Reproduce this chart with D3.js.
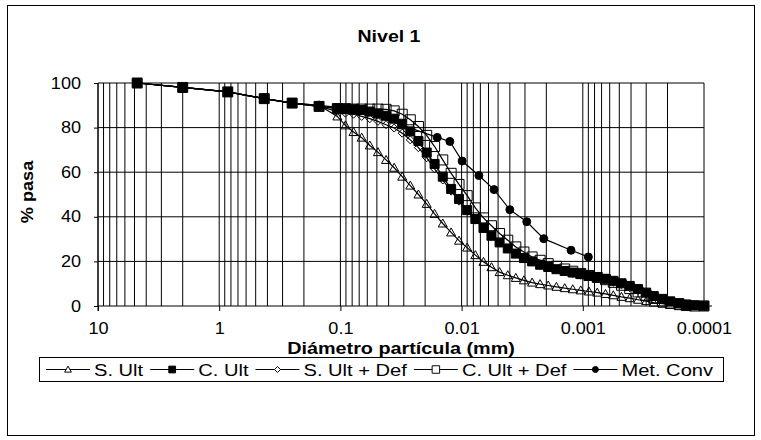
<!DOCTYPE html>
<html>
<head>
<meta charset="utf-8">
<script src="https://cdn.jsdelivr.net/npm/d3@7"></script>
<style>
  body { margin: 0; background: #fff; }
  text { font-family: "Liberation Sans", Arial, sans-serif; fill: #000; }
</style>
</head>
<body>
<div id="chart"></div>
<script>
// sieve sizes (mm)
const sieveDiam = [4.75, 2.0, 0.85, 0.425, 0.25, 0.15];
// laser size classes (mm)
const laserDiam = [0.106, 0.0909, 0.0779, 0.0667, 0.0572, 0.0490, 0.0420, 0.0360, 0.0309, 0.0265,
  0.0227, 0.0194, 0.0167, 0.0143, 0.0122, 0.0105, 0.0090, 0.0077, 0.0066, 0.00567,
  0.00486, 0.00416, 0.00357, 0.00306, 0.00262, 0.00225, 0.00193, 0.00165, 0.00141, 0.00121,
  0.00104, 0.00089, 0.00076, 0.00065, 0.00056, 0.00048, 0.00041, 0.00035, 0.00030, 0.00026,
  0.00022, 0.00019, 0.00016, 0.00014, 0.00012, 0.00010];
// sieve + hydrometer (mm)
const convDiam = [4.75, 2.0, 0.85, 0.425, 0.25, 0.15, 0.075, 0.0159, 0.0125, 0.0099,
  0.0072, 0.0054, 0.0040, 0.0029, 0.0021, 0.00125, 0.00090];

const sUltSieve = [100, 98, 96, 93, 91, 90];
const sUltLaser = [85, 81, 78, 75.5, 72, 69, 65.5, 62, 58, 54,
  50, 45.8, 41.3, 37, 33, 29.3, 26.2, 22.8, 19.8, 17.4,
  15.2, 13.8, 12.6, 11.5, 10.5, 9.8, 9.2, 8.6, 8.0, 7.5,
  7.0, 6.5, 6.0, 5.4, 4.8, 4.1, 3.5, 2.8, 2.2, 1.5,
  1.0, 0.5, 0.2, 0, 0, 0];

const cUltSieve = [100, 98, 96, 93, 91, 89.5];
const cUltLaser = [88.7, 88.4, 88.2, 87.9, 87.2, 86.3, 85.3, 84, 81.5, 78.3,
  74, 68.8, 63.7, 58, 52.5, 48, 43, 39, 35, 31.5,
  28.5, 25.8, 23.5, 21.5, 20, 18.5, 17.5, 16.5, 15.7, 15,
  14.3, 13.6, 12.9, 12.2, 11.3, 10.2, 9, 7.6, 6, 4.5,
  3.2, 2.1, 1.3, 0.7, 0.3, 0.1];

const sUltDefSieve = [100, 98, 96, 93, 91, 89.5];
const sUltDefLaser = [87.3, 86.5, 86, 85, 84, 82.8, 81.3, 79.8, 77.5, 74.5,
  71, 66.5, 61.5, 56.5, 51.5, 47, 42.5, 38.5, 34.8, 31.3,
  28.3, 25.6, 23.3, 21.3, 19.7, 18.3, 17.2, 16.2, 15.4, 14.6,
  13.8, 13.1, 12.3, 11.5, 10.6, 9.5, 8.2, 6.8, 5.4, 4,
  2.8, 1.8, 1.0, 0.5, 0.2, 0];

const cUltDefSieve = [100, 98, 96, 93, 91, 89.5];
const cUltDefLaser = [88.5, 88.5, 88.3, 88.3, 88.3, 88.3, 88.2, 87.5, 86, 83.5,
  80.5, 76.5, 71.5, 65.5, 59.5, 54.5, 49.5, 44, 39.5, 36,
  32.5, 29.5, 26.5, 24.2, 22, 20.5, 19, 17.8, 16.6, 15.6,
  14.6, 13.7, 12.8, 11.8, 10.6, 9.3, 7.8, 6.3, 4.8, 3.4,
  2.2, 1.3, 0.6, 0.2, 0, 0];

const metConv = [100, 98, 96, 93, 91, 90, 88.3, 75.6, 73.8, 65,
  58.5, 52.2, 43.2, 37.8, 30.2, 25, 22];

const seriesNames = ["S. Ult", "C. Ult", "S. Ult + Def", "C. Ult + Def", "Met. Conv"];
const xTicks = [10, 1, 0.1, 0.01, 0.001, 0.0001];
const yTicks = [0, 20, 40, 60, 80, 100];

// build point lists
function pts(diam, pass) {
  return diam.map((d, i) => ({d: d, p: pass[i]}));
}
const series = [
  {name: seriesNames[0], marker: "triangle", values: pts(sieveDiam.concat(laserDiam), sUltSieve.concat(sUltLaser))},
  {name: seriesNames[1], marker: "square", values: pts(sieveDiam.concat(laserDiam), cUltSieve.concat(cUltLaser))},
  {name: seriesNames[2], marker: "diamond", values: pts(sieveDiam.concat(laserDiam), sUltDefSieve.concat(sUltDefLaser))},
  {name: seriesNames[3], marker: "opensquare", values: pts(sieveDiam.concat(laserDiam), cUltDefSieve.concat(cUltDefLaser))},
  {name: seriesNames[4], marker: "circle", values: pts(convDiam, metConv)}
];

const width = 761, height = 440;
const svg = d3.select("#chart").append("svg")
  .attr("width", width)
  .attr("height", height);

// text is a bit wider than plain Arial in the original
function addText(parent, tx, ty, str, size, bold, anchor, sx, rot) {
  return parent.append("text")
    .attr("transform", "translate(" + tx + "," + ty + ")" + (rot ? " rotate(" + rot + ")" : "") + " scale(" + sx + ",1)")
    .attr("text-anchor", anchor)
    .style("font-size", size + "px")
    .style("font-weight", bold ? "bold" : "normal")
    .text(str);
}

// chart border
svg.append("rect")
  .attr("x", 7.5).attr("y", 5.5)
  .attr("width", 747).attr("height", 430)
  .attr("fill", "#fff").attr("stroke", "#000").attr("stroke-width", 1);

const pLeft = 98, pRight = 704, pTop = 83, pBottom = 306;

const x = d3.scaleLog().domain([10, 0.0001]).range([pLeft, pRight]);
const y = d3.scaleLinear().domain([0, 100]).range([pBottom, pTop]);

// vertical grid (major + minor)
const grid = [];
for (let e = -4; e <= 1; e++) {
  for (let m = 1; m <= 9; m++) {
    const v = m * Math.pow(10, e);
    if (v >= 0.0001 && v <= 10.0001) grid.push(v);
  }
}
svg.append("g").selectAll("line")
  .data(grid)
  .enter().append("line")
  .attr("x1", d => x(d)).attr("x2", d => x(d))
  .attr("y1", pTop).attr("y2", pBottom)
  .attr("stroke", "#000").attr("stroke-width", 1);

// horizontal grid
svg.append("g").selectAll("line")
  .data(yTicks.filter(d => d > 0))
  .enter().append("line")
  .attr("x1", pLeft).attr("x2", pRight)
  .attr("y1", d => y(d)).attr("y2", d => y(d))
  .attr("stroke", "#000").attr("stroke-width", 1);

// axes
const tickSx = 1.13;
const xAxis = d3.axisBottom(x).tickValues(xTicks).tickFormat(d => String(d)).tickSize(5).tickPadding(12);
const gx = svg.append("g").attr("transform", "translate(0," + pBottom + ")").call(xAxis);
gx.select(".domain").remove();
gx.append("line").attr("x1", pLeft).attr("x2", pRight + 8).attr("stroke", "#000");
gx.selectAll("text")
  .style("font-size", "16px").attr("font-family", null)
  .attr("transform", "scale(" + tickSx + ",1)");

const yAxis = d3.axisLeft(y).tickValues(yTicks).tickSize(4).tickPadding(17 / tickSx - 4);
const gy = svg.append("g").attr("transform", "translate(" + pLeft + ",0)").call(yAxis);
gy.select(".domain").attr("d", "M0," + pTop + "V" + (pBottom + 5));
gy.selectAll("text")
  .style("font-size", "16px").attr("font-family", null)
  .attr("transform", "scale(" + tickSx + ",1)");

// titles
addText(svg, 389, 42, "Nivel 1", 17, true, "middle", 1.15);
addText(svg, (pLeft + pRight) / 2, 354, "Diámetro partícula (mm)", 16.5, true, "middle", 1.2);
addText(svg, 33, 192, "% pasa", 16.5, true, "middle", 1.1, -90);

// markers
function markerPath(type) {
  if (type === "triangle") return "M0,-4.5L4.5,3.5L-4.5,3.5Z";
  if (type === "square") return "M-4.5,-4.5H4.5V4.5H-4.5Z";
  if (type === "opensquare") return "M-5,-5H5V5H-5Z";
  if (type === "diamond") return "M0,-4L4,0L0,4L-4,0Z";
  return d3.symbol().type(d3.symbolCircle).size(50)();
}
function markerFill(type) {
  return (type === "square" || type === "circle") ? "#000" : "none";
}

const line = d3.line().x(d => x(d.d)).y(d => y(d.p));

series.forEach(s => {
  const g = svg.append("g");
  g.append("path")
    .datum(s.values)
    .attr("d", line)
    .attr("fill", "none")
    .attr("stroke", "#000")
    .attr("stroke-width", 1.2);
  g.selectAll("path.m")
    .data(s.values)
    .enter().append("path")
    .attr("class", "m")
    .attr("transform", d => "translate(" + x(d.d) + "," + y(d.p) + ")")
    .attr("d", markerPath(s.marker))
    .attr("fill", markerFill(s.marker))
    .attr("stroke", "#000")
    .attr("stroke-width", 1);
});

// legend
const legend = svg.append("g");
legend.append("rect")
  .attr("x", 39.5).attr("y", 357.5)
  .attr("width", 684).attr("height", 24)
  .attr("fill", "#fff").attr("stroke", "#000");

const legSx = 1.22;
let lx = 46;
const ly = 369.5;
series.forEach(s => {
  legend.append("line")
    .attr("x1", lx).attr("x2", lx + 44)
    .attr("y1", ly).attr("y2", ly)
    .attr("stroke", "#000").attr("stroke-width", 1.2);
  legend.append("path")
    .attr("transform", "translate(" + (lx + 22) + "," + ly + ") scale(0.75)")
    .attr("d", markerPath(s.marker))
    .attr("fill", s.marker === "square" || s.marker === "circle" ? "#000" : "#fff")
    .attr("stroke", "#000")
    .attr("stroke-width", 1.3);
  const t = addText(legend, lx + 48, ly + 6, s.name, 16.5, false, "start", legSx);
  lx += 48 + t.node().getComputedTextLength() * legSx + 7;
});
</script>
</body>
</html>
